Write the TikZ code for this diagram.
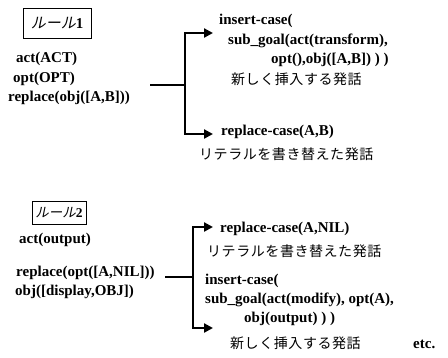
\documentclass[tikz,border=0pt]{standalone}
\usepackage{fontspec}
\setmainfont{Liberation Serif}
\newfontfamily\jp[LetterSpace=4]{Noto Sans CJK JP}
\newfontfamily\jpslant[FakeSlant=0.2]{Noto Sans CJK JP}
\usetikzlibrary{arrows.meta}

\tikzset{
  code/.style={anchor=base west, inner sep=0pt,
    font=\fontsize{15}{18}\selectfont\bfseries},
  jtext/.style={anchor=base west, inner sep=0pt,
    font=\fontsize{14}{16}\selectfont\jp},
  rulebox/.style={draw, line width=0.9pt, inner sep=0pt},
  conn/.style={line width=2.2pt, line join=miter},
  arr/.style={conn, -{Triangle[length=9pt,width=9pt]}},
}

\begin{document}
\begin{tikzpicture}[x=1pt,y=-1pt]
\useasboundingbox (0,0) rectangle (448,357);

% ---- rule 1 ----
\node[rulebox, minimum width=68pt, minimum height=30pt] (r1) at (57,23)
  {\fontsize{15}{17}\selectfont{\jpslant ルール}\bfseries 1};
\node[code] (r1act) at (16,62) {act(ACT)};
\node[code] (r1opt) at (13,82) {opt(OPT)};
\node[code] (r1rep) at (8,101) {replace(obj([A,B]))};

\coordinate (s1) at (150,85);
\coordinate (j1) at (185,85);
\coordinate (a1) at (213,33);
\coordinate (b1) at (213,134);
\draw[conn] (s1) -- (j1);
\draw[arr] (j1) |- (a1);
\draw[arr] (j1) |- (b1);

\node[code] (ins1) at (219,24) {insert-case(};
\node[code] (sub1) at (228,44) {sub\_goal(act(transform),};
\node[code] (sub1b) at (271,63) {opt(),obj([A,B]) ) )};
\node[jtext] (new1) at (231,84) {新しく挿入する発話};
\node[code] (rep1) at (221,135) {replace-case(A,B)};
\node[jtext] (lit1) at (199,159) {リテラルを書き替えた発話};

% ---- rule 2 ----
\node[rulebox, minimum width=54pt, minimum height=23pt] (r2) at (59,212.5)
  {\fontsize{13.5}{15}\selectfont{\jpslant ルール}\bfseries 2};
\node[code] (r2act) at (19,243) {act(output)};
\node[code] (r2rep) at (16,276) {replace(opt([A,NIL]))};
\node[code] (r2obj) at (15,295) {obj([display,OBJ])};

\coordinate (s2) at (165,277);
\coordinate (j2) at (193,277);
\coordinate (a2) at (213,227);
\coordinate (b2) at (213,328);
\draw[conn] (s2) -- (j2);
\draw[arr] (j2) |- (a2);
\draw[arr] (j2) |- (b2);

\node[code] (rep2) at (220,232) {replace-case(A,NIL)};
\node[jtext] (lit2) at (207,256) {リテラルを書き替えた発話};
\node[code] (ins2) at (205,284) {insert-case(};
\node[code] (sub2) at (205,303) {sub\_goal(act(modify), opt(A),};
\node[code] (sub2b) at (244,322) {obj(output) ) )};
\node[jtext] (new2) at (230,348) {新しく挿入する発話};
\node[code] (etc) at (413,348) {etc.};
\end{tikzpicture}
\end{document}
